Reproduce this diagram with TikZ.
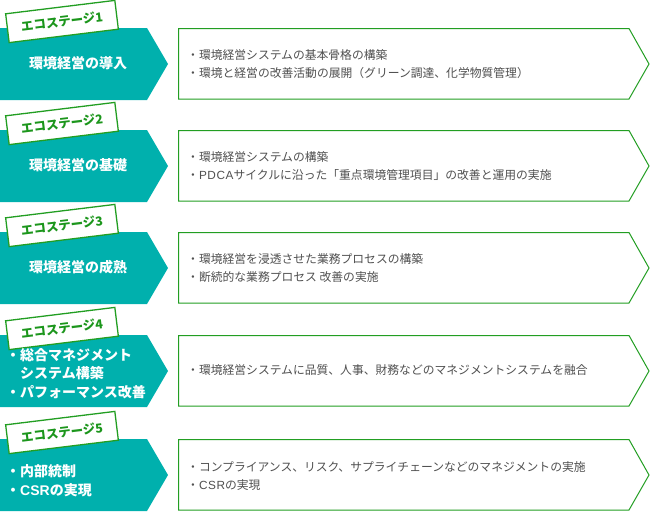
\documentclass[tikz,border=0pt]{standalone}
\usepackage{fontspec}
\setmainfont{Noto Sans CJK JP}
\newfontfamily\latsp{Liberation Sans}[LetterSpace=5]
\newfontfamily\latb{Liberation Sans}
\definecolor{tealband}{RGB}{0,176,173}
\definecolor{gline}{RGB}{34,158,34}
\definecolor{gtext}{RGB}{28,150,28}
\definecolor{btext}{RGB}{80,80,80}
\tikzset{
  band/.style={fill=tealband},
  gbox/.style={draw=gline, line width=1pt, fill=white},
  stagelabel/.style={draw=gline, line width=1.3pt, fill=white, rotate=7, minimum width=110pt, minimum height=29pt, inner sep=0pt, text=gtext, font=\fontsize{12.5}{14}\selectfont\bfseries},
  headtext/.style={text=white, font=\fontsize{14}{16}\selectfont\bfseries, inner sep=0pt},
  headlist/.style={text=white, font=\fontsize{14}{18.5}\selectfont\bfseries, inner sep=0pt, align=left, anchor=west},
  bodytext/.style={text=btext, font=\fontsize{11.8}{18}\selectfont, inner sep=0pt, align=left, anchor=west}
}
\begin{document}
\begin{tikzpicture}[x=1pt,y=-1pt]
\useasboundingbox (0,0) rectangle (650,512);
\foreach \T [count=\i] in {28,130,232,335,439} {
  \fill[band] (0,\T) -- (147,\T) -- (168,\T+36) -- (147,\T+72) -- (0,\T+72) -- cycle;
  \draw[gbox] (178.5,\T+0.5) -- (629,\T+0.5) -- (649,\T+36) -- (629,\T+71) -- (178.5,\T+71) -- cycle;
  \node[stagelabel] (lab\i) at (62,\T-6.5) {エコステージ\i};
}
% left texts
\node[headtext] (h1) at (78,63) {環境経営の導入};
\node[headtext] (h2) at (78,165) {環境経営の基礎};
\node[headtext] (h3) at (78,267) {環境経営の成熟};
\node[headlist] (h4) at (6,373.5) {・総合マネジメント\\\hspace*{14pt}システム構築\\・パフォーマンス改善};
\node[headlist] (h5) at (6,480.5) {・内部統制\\・{\latb CSR}の実現};
% right texts
\node[bodytext] (b1) at (187,64) {・環境経営システムの基本骨格の構築\\・環境と経営の改善活動の展開（グリーン調達、化学物質管理）};
\node[bodytext] (b2) at (187,166) {・環境経営システムの構築\\・{\latsp PDCA}サイクルに沿った「重点環境管理項目」の改善と運用の実施};
\node[bodytext] (b3) at (187,268) {・環境経営を浸透させた業務プロセスの構築\\・断続的な業務プロセス 改善の実施};
\node[bodytext] (b4) at (187,370) {・環境経営システムに品質、人事、財務などのマネジメントシステムを融合};
\node[bodytext] (b5) at (187,476) {・コンプライアンス、リスク、サプライチェーンなどのマネジメントの実施\\・{\latsp CSR}の実現};
\end{tikzpicture}
\end{document}
